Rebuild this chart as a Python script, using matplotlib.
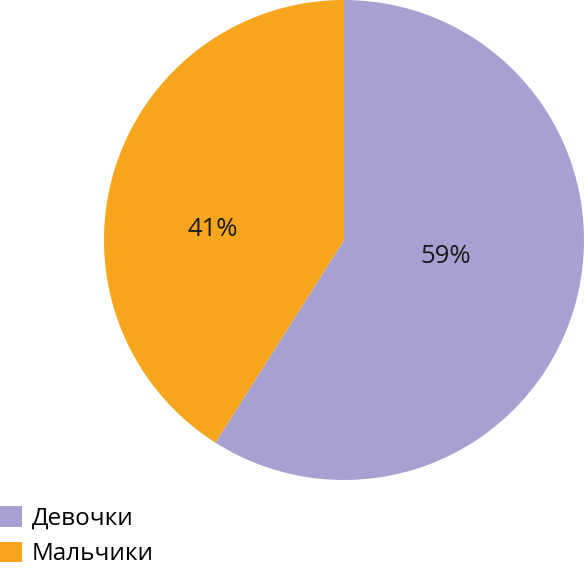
import matplotlib
matplotlib.use("Agg")
import matplotlib.pyplot as plt

categories = ["Девочки", "Мальчики"]
values = [59, 41]
colors = ["#A7A1D1", "#F7A51D"]

plt.rcParams['font.family'] = ['Open Sans', 'DejaVu Sans']

fig = plt.figure(figsize=(5.84, 5.72), dpi=100)
ax = fig.add_axes([104/584, 1 - 480/572, 480/584, 480/572])
wedges, texts, autotexts = ax.pie(values, colors=colors, startangle=90, counterclock=False,
                                  autopct=lambda p: f"{round(p)}%", pctdistance=0.5,
                                  textprops=dict(fontsize=18.5, color='#1a1a1a'),
                                  wedgeprops=dict(linewidth=0))
ax.set_xlim(-1, 1)
ax.set_ylim(-1, 1)
# label positions (layout)
autotexts[0].set_position((0.425, -0.07))
autotexts[1].set_position((-0.545, 0.045))

leg = fig.legend(wedges, categories, loc='lower left', bbox_to_anchor=(0, 0.01),
                 frameon=False, fontsize=17.5, handlelength=0.9, handleheight=0.9,
                 handletextpad=0.42, labelspacing=0.45, borderpad=0, borderaxespad=0)
fig.savefig("out.png", dpi=100)
